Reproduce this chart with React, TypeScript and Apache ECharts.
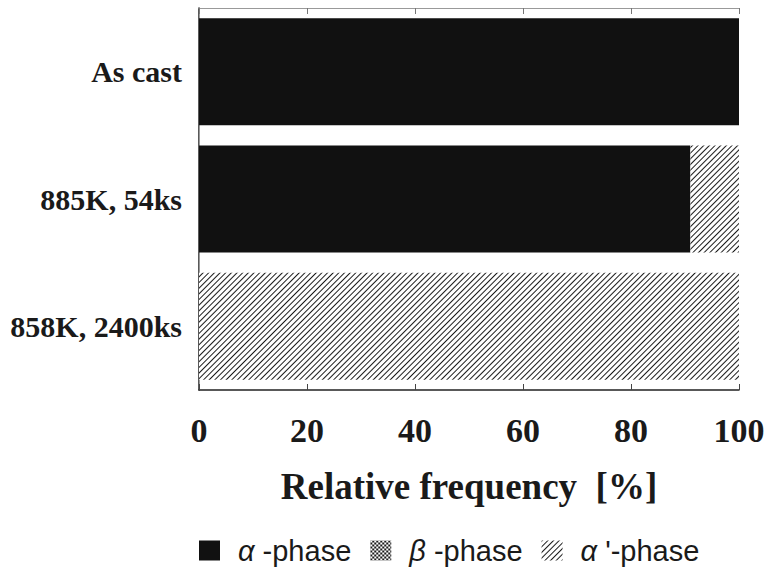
import React, { useEffect, useRef } from "react";
import * as echarts from "echarts";

const categories = ["As cast", "885K, 54ks", "858K, 2400ks"];
const alphaPhase = [100, 91, 0];
const betaPhase = [0, 0, 0];
const alphaPrimePhase = [0, 9, 100];
const xTicks = [0, 20, 40, 60, 80, 100];

const serif = "'Liberation Serif', 'Times New Roman', serif";
const sans = "'Liberation Sans', Arial, sans-serif";

const hatch = {
  symbol: "rect",
  symbolSize: 1,
  color: "#1a1a1a",
  dashArrayX: [1, 0],
  dashArrayY: [1, 2.4],
  rotation: -Math.PI / 4,
};
const checker = {
  symbol: "rect",
  symbolSize: 1,
  color: "#1a1a1a",
  dashArrayX: [[2, 2], [0, 2, 2, 0]],
  dashArrayY: [2, 0],
  rotation: 0,
};

export default function App() {
  const ref = useRef<HTMLDivElement>(null);
  useEffect(() => {
    document.body.style.margin = "0";
    const chart = echarts.init(ref.current!, null, { renderer: "svg" });
    const legendLabels: Record<string, string> = {
      "α-phase": "{p| }{g|α} -phase",
      "β-phase": "{p| }{g|β} -phase",
      "α'-phase": "{p| }{g|α} '-phase",
    };
    chart.setOption({
      animation: false,
      backgroundColor: "#fff",
      grid: { left: 199, right: 32, top: 8, bottom: 181 },
      xAxis: [
        {
          type: "value",
          min: 0,
          max: 100,
          interval: 20,
          position: "bottom",
          axisLine: { show: true, lineStyle: { color: "#222", width: 1.5 } },
          axisTick: { show: true, inside: true, length: 6, lineStyle: { color: "#444" } },
          splitLine: { show: false },
          axisLabel: {
            fontFamily: serif,
            fontWeight: "bold",
            fontSize: 34,
            color: "#1a1a1a",
            margin: 23,
            formatter: (v: number) => (xTicks.includes(v) ? String(v) : ""),
          },
          name: "Relative frequency  [%]",
          nameLocation: "middle",
          nameGap: 78,
          nameTextStyle: {
            fontFamily: serif,
            fontWeight: "bold",
            fontSize: 37,
            color: "#1a1a1a",
          },
        },
        {
          type: "value",
          min: 0,
          max: 100,
          interval: 20,
          position: "top",
          axisLine: { show: true, lineStyle: { color: "#999", width: 1 } },
          axisTick: { show: true, inside: true, length: 6, lineStyle: { color: "#777" } },
          axisLabel: { show: false },
          splitLine: { show: false },
        },
      ],
      yAxis: [
        {
          type: "category",
          data: categories,
          inverse: true,
          axisLine: { show: true, lineStyle: { color: "#222", width: 1.5 } },
          axisTick: { show: false },
          axisLabel: {
            fontFamily: serif,
            fontWeight: "bold",
            fontSize: 30,
            color: "#1a1a1a",
            margin: 17,
          },
        },
        {
          type: "category",
          data: categories,
          inverse: true,
          position: "right",
          axisLine: { show: true, lineStyle: { color: "#999", width: 1 } },
          axisTick: { show: false },
          axisLabel: { show: false },
        },
      ],
      legend: {
        left: 194,
        top: 531,
        itemWidth: 21,
        itemHeight: 20,
        itemGap: 19,
        icon: "rect",
        formatter: (name: string) => legendLabels[name] || name,
        textStyle: {
          fontFamily: sans,
          fontSize: 29,
          color: "#1a1a1a",
          rich: {
            p: { width: 13, fontSize: 29 },
            g: { fontFamily: sans, fontStyle: "italic", fontSize: 29, color: "#1a1a1a" },
          },
        },
        data: ["α-phase", "β-phase", "α'-phase"],
      },
      series: [
        {
          name: "α-phase",
          type: "bar",
          stack: "total",
          barCategoryGap: "16%",
          data: alphaPhase,
          itemStyle: { color: "#111" },
        },
        {
          name: "β-phase",
          type: "bar",
          stack: "total",
          data: betaPhase,
          itemStyle: { color: "#fff", decal: checker },
        },
        {
          name: "α'-phase",
          type: "bar",
          stack: "total",
          data: alphaPrimePhase,
          itemStyle: { color: "#fff", decal: hatch },
        },
      ],
    });
    return () => chart.dispose();
  }, []);
  return <div ref={ref} style={{ width: 771, height: 571 }} />;
}
